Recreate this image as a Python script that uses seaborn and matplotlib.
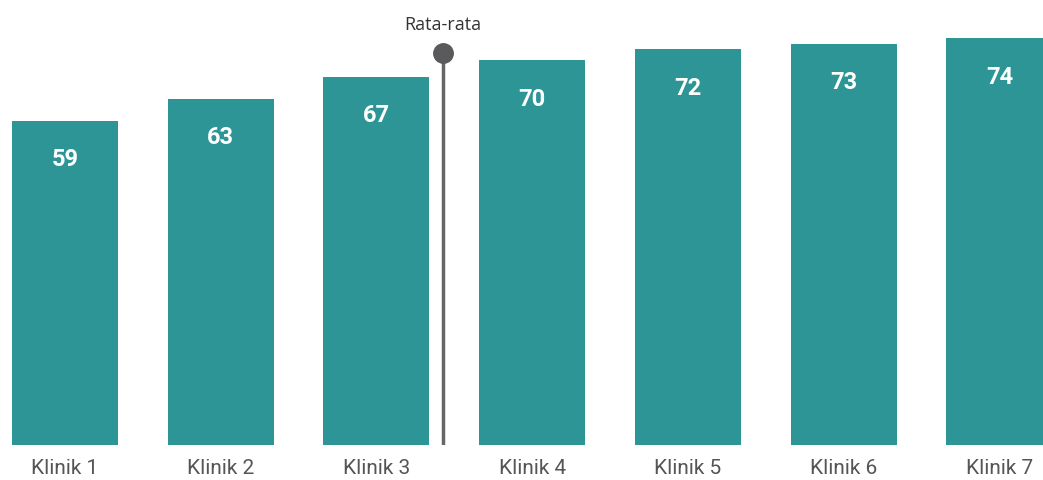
import numpy as np
import pandas as pd
import matplotlib
matplotlib.use("Agg")
import matplotlib.pyplot as plt
import seaborn as sns

categories = ["Klinik 1", "Klinik 2", "Klinik 3", "Klinik 4", "Klinik 5", "Klinik 6", "Klinik 7"]
values = [59, 63, 67, 70, 72, 73, 74]
avg_label = "Rata-rata"

sns.set_style("white")
plt.rcParams['font.family'] = ['Roboto', 'DejaVu Sans']

df = pd.DataFrame({"klinik": categories, "nilai": values})

fig = plt.figure(figsize=(10.43, 4.8), dpi=100)
ax = fig.add_axes([0, 35 / 480, 1, 445 / 480])

bar_color = "#2E9596"
sns.barplot(data=df, x="klinik", y="nilai", color=bar_color, width=0.68,
            saturation=1, linewidth=0, ax=ax)

ymax = 81.0
ax.set_ylim(0, ymax)
ax.set_xlim(-0.417, 6.28)
for s in ax.spines.values():
    s.set_visible(False)
ax.set_yticks([])
ax.set_xlabel("")
ax.set_ylabel("")
ax.tick_params(axis="x", length=0, pad=10, labelsize=15, labelcolor="#555555")

for i, v in enumerate(values):
    ax.annotate(str(v), xy=(i, v), xytext=(0, -28), textcoords="offset points",
                ha="center", va="center", color="white", fontsize=17,
                fontweight="bold")

avg = float(np.mean(values))
x_avg = float(np.interp(avg, values, np.arange(len(values))))
line_top = ymax * (392 / 445)
ax.plot([x_avg, x_avg], [0, line_top], color="#666666", lw=2.5, zorder=3,
        solid_capstyle="butt")
ax.plot([x_avg], [line_top], "o", color="#5a5a5c", markersize=14, zorder=4)
ax.text(x_avg, ymax * (420 / 445), avg_label, ha="center", va="center",
        fontsize=13, color="#333333", family=["Open Sans", "DejaVu Sans"],
        clip_on=False)

fig.savefig("out.png", dpi=100)
